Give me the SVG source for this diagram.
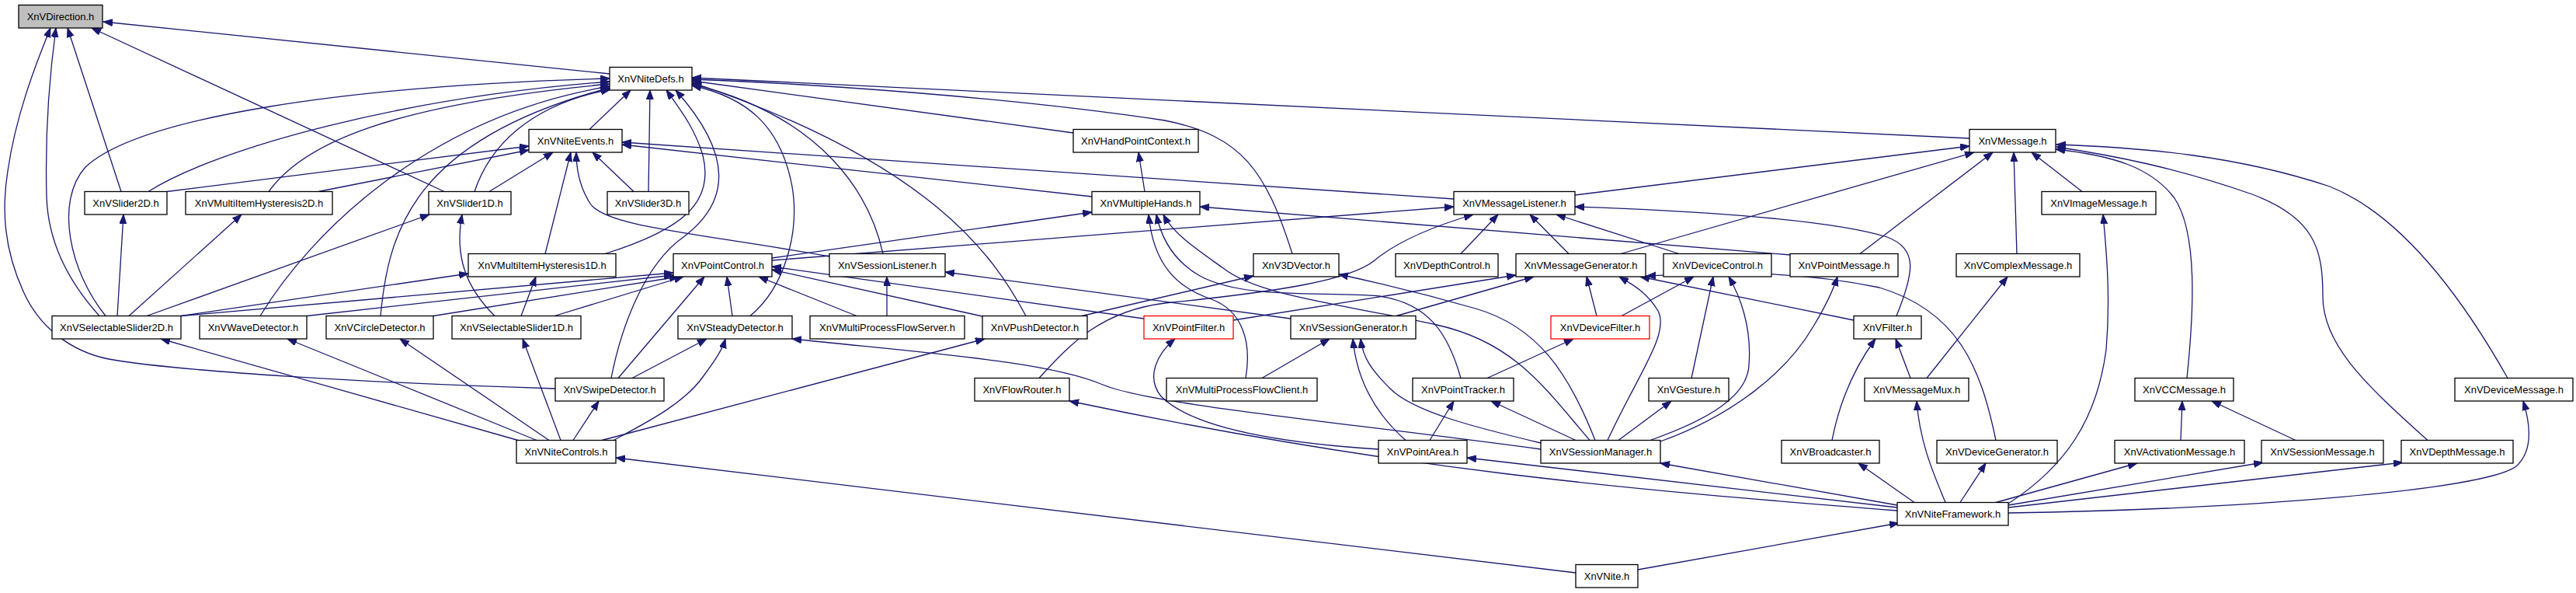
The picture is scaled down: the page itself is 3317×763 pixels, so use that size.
<svg xmlns="http://www.w3.org/2000/svg" width="3317" height="763" viewBox="0 0 3317 763">
<style>
.n rect{fill:#fff;stroke:#000;stroke-width:1.3}
.n text{font-family:"Liberation Sans",Arial,sans-serif;font-size:13px;text-anchor:middle;fill:#000}
.red rect{stroke:#ff0000}
.root rect{fill:#bfbfbf}
.e path{fill:none;stroke:#191970;stroke-width:1.3;marker-end:url(#ah)}
</style>
<defs>
<marker id="ah" markerUnits="userSpaceOnUse" markerWidth="13" markerHeight="10" refX="12" refY="4.5" orient="auto">
<path d="M0,0 L12,4.5 L0,9 z" fill="#191970" stroke="#191970" stroke-width="1"/>
</marker>
</defs>
<rect width="3317" height="763" fill="#fff"/>
<g id="edges" class="e">
<path d="M785,95 L133,28"/>
<path d="M572,246.5 L118,36"/>
<path d="M156,246.5 L87,36"/>
<path d="M128,406.5 C95,370 62,320 60,253 C58,180 62,110 72,36"/>
<path d="M715,500 C480,493 230,478 140,462 C90,452 50,420 30,375 C5,320 2,270 10,220 C20,150 45,85 65,36"/>
<path d="M759,166.5 L812,116"/>
<path d="M191,246.5 C280,190 520,125 785,105"/>
<path d="M346,246.5 C390,185 500,135 785,108"/>
<path d="M136,406.5 C90,350 70,260 110,215 C180,150 450,110 785,101"/>
<path d="M335,406.5 C400,300 550,150 785,111"/>
<path d="M490,406.5 C500,300 530,180 785,113"/>
<path d="M611,246.5 C630,190 680,135 786,115"/>
<path d="M630,246.5 L712,196"/>
<path d="M215,246.5 L681,188"/>
<path d="M410,246.5 L681,193"/>
<path d="M702,326.5 L735,196"/>
<path d="M1068,330 C900,300 780,292 760,262 C746,240 742,218 742,196"/>
<path d="M816,246.5 L763,196"/>
<path d="M835,246.5 L837,116"/>
<path d="M779,326.5 C880,295 920,260 905,200 C895,165 875,140 858,116"/>
<path d="M787,486.5 C800,420 830,340 880,305 C940,260 945,200 870,116"/>
<path d="M966,406.5 C1010,370 1030,300 1020,240 C1005,160 960,125 891,110"/>
<path d="M1137,326.5 C1120,250 1060,150 891,108"/>
<path d="M1321,406.5 C1280,330 1200,210 891,106"/>
<path d="M1382,171 L891,104"/>
<path d="M1664,326.5 C1630,220 1600,175 1500,155 C1300,125 1050,108 891,102"/>
<path d="M2536,178 L891,100"/>
<path d="M1406,253 L801,186"/>
<path d="M1872,256 L801,183"/>
<path d="M1474,246.5 L1466,196"/>
<path d="M994,332 L1406,273"/>
<path d="M994,335 L1872,266"/>
<path d="M2305,328 L1545,266"/>
<path d="M1604,486.5 C1612,440 1600,400 1560,385 C1515,370 1485,340 1479,276"/>
<path d="M1881,486.5 C1865,430 1840,390 1776,381 C1700,375 1600,385 1545,355 C1510,335 1495,305 1489,276"/>
<path d="M2047,566.5 C1990,500 1950,440 1850,418 C1720,390 1620,380 1575,345 C1540,320 1510,300 1498,276"/>
<path d="M2054,566.5 C2020,480 1980,420 1900,397 C1830,377 1780,365 1724,353"/>
<path d="M233,406.5 L867,351"/>
<path d="M395,406.5 L867,354"/>
<path d="M558,406.5 L874,356"/>
<path d="M714,406.5 L880,356"/>
<path d="M796,486.5 L907,356"/>
<path d="M943,406.5 L936,356"/>
<path d="M1103,406.5 L977,356"/>
<path d="M1265,407 L994,347"/>
<path d="M1473,410 L994,343"/>
<path d="M814,486.5 L910,436"/>
<path d="M790,566.5 C830,545 880,520 905,485 C922,462 930,450 934,436"/>
<path d="M667,566.5 L207,436"/>
<path d="M691,566.5 L370,436"/>
<path d="M707,566.5 L515,436"/>
<path d="M722,566.5 L673,436"/>
<path d="M738,566.5 L771,516"/>
<path d="M775,566.5 L1268,436"/>
<path d="M2029,737 L793,589"/>
<path d="M2109,733 L2445,673"/>
<path d="M2443,657 C2100,630 1800,605 1377,516"/>
<path d="M2443,653 L1889,589"/>
<path d="M2443,650 L2138,596"/>
<path d="M2465,646.5 L2393,596"/>
<path d="M2505,646.5 C2490,610 2472,570 2468,516"/>
<path d="M2524,646.5 L2557,596"/>
<path d="M2586,648 C2660,600 2700,540 2712,450 C2718,380 2712,320 2708,276"/>
<path d="M2570,646.5 L2752,596"/>
<path d="M2586,650 L2914,595"/>
<path d="M2586,653 L3094,595"/>
<path d="M2586,660 C2900,655 3200,630 3240,600 C3262,580 3258,545 3249,516"/>
<path d="M2359,566.5 C2370,510 2390,470 2415,436"/>
<path d="M2460,486.5 L2441,436"/>
<path d="M2481,486.5 L2585,356"/>
<path d="M2570,566.5 C2550,470 2520,400 2420,370 C2300,345 2200,352 2120,355"/>
<path d="M2387,412 L2112,356"/>
<path d="M2442,406.5 C2465,350 2470,320 2430,305 C2350,280 2150,270 2028,266"/>
<path d="M2070,566.5 C2110,480 2150,430 2135,400 C2120,375 2100,365 2085,356"/>
<path d="M2056,406.5 L2043,356"/>
<path d="M2088,406.5 L2181,356"/>
<path d="M2178,486.5 L2206,356"/>
<path d="M2125,566.5 C2200,540 2250,510 2252,470 C2256,420 2240,380 2226,356"/>
<path d="M2138,568 C2230,535 2300,480 2335,420 C2350,395 2360,375 2366,356"/>
<path d="M2084,566.5 L2152,516"/>
<path d="M2029,566.5 L1920,516"/>
<path d="M1984,570 C1900,550 1820,530 1790,500 C1765,475 1755,460 1752,436"/>
<path d="M1984,578 C1700,540 1480,520 1420,495 C1350,465 1200,455 1020,436"/>
<path d="M1662,410 L1217,350"/>
<path d="M1798,406.5 L1975,356"/>
<path d="M1588,412 L1952,354"/>
<path d="M1142,406.5 L1142,356"/>
<path d="M1393,406.5 L1614,355"/>
<path d="M1625,486.5 L1712,436"/>
<path d="M1915,486.5 L2026,436"/>
<path d="M1841,566.5 L1872,516"/>
<path d="M1810,566.5 C1780,540 1748,500 1742,436"/>
<path d="M1775,578 C1620,568 1530,545 1495,510 C1475,485 1490,455 1513,436"/>
<path d="M1338,486.5 C1380,440 1420,400 1500,390 C1650,375 1740,360 1770,335 C1800,310 1850,290 1897,276"/>
<path d="M1881,326.5 L1929,276"/>
<path d="M2020,326.5 L1970,276"/>
<path d="M2162,326.5 L2004,276"/>
<path d="M2028,251 L2536,188"/>
<path d="M2087,326.5 L2542,196"/>
<path d="M2395,326.5 L2566,196"/>
<path d="M2597,326.5 L2593,196"/>
<path d="M2681,246.5 L2616,196"/>
<path d="M2816,486.5 C2825,400 2830,300 2800,255 C2770,215 2720,200 2647,192"/>
<path d="M3126,566.5 C3040,490 2990,440 2991,380 C2991,320 2980,280 2900,250 C2800,215 2720,200 2648,189"/>
<path d="M3229,486.5 C3180,400 3100,280 3000,240 C2880,200 2760,190 2648,186"/>
<path d="M2808,566.5 L2810,516"/>
<path d="M2956,566.5 L2848,516"/>
<path d="M637,406.5 C600,370 585,330 595,276"/>
<path d="M671,406.5 L690,356"/>
<path d="M233,406.5 L603,352"/>
<path d="M151,406.5 L159,276"/>
<path d="M166,406.5 L311,276"/>
<path d="M189,406.5 L553,276"/>
</g>
<g id="n_Direction" class="n root"><rect x="24" y="6.5" width="108" height="29.5"/><text x="78" y="26">XnVDirection.h</text></g>
<g id="n_NiteDefs" class="n"><rect x="785" y="86.5" width="106" height="29.5"/><text x="838" y="106">XnVNiteDefs.h</text></g>
<g id="n_NiteEvents" class="n"><rect x="681" y="166.5" width="120" height="29.5"/><text x="741" y="186">XnVNiteEvents.h</text></g>
<g id="n_HandPointContext" class="n"><rect x="1382" y="166.5" width="161" height="29.5"/><text x="1462.5" y="186">XnVHandPointContext.h</text></g>
<g id="n_Message" class="n"><rect x="2536" y="166.5" width="111" height="29.5"/><text x="2591.5" y="186">XnVMessage.h</text></g>
<g id="n_Slider2D" class="n"><rect x="109" y="246.5" width="106" height="29.5"/><text x="162" y="266">XnVSlider2D.h</text></g>
<g id="n_MIH2D" class="n"><rect x="239" y="246.5" width="189" height="29.5"/><text x="333.5" y="266">XnVMultiItemHysteresis2D.h</text></g>
<g id="n_Slider1D" class="n"><rect x="552" y="246.5" width="106" height="29.5"/><text x="605" y="266">XnVSlider1D.h</text></g>
<g id="n_Slider3D" class="n"><rect x="782" y="246.5" width="105" height="29.5"/><text x="834.5" y="266">XnVSlider3D.h</text></g>
<g id="n_MultipleHands" class="n"><rect x="1406" y="246.5" width="139" height="29.5"/><text x="1475.5" y="266">XnVMultipleHands.h</text></g>
<g id="n_MessageListener" class="n"><rect x="1872" y="246.5" width="156" height="29.5"/><text x="1950" y="266">XnVMessageListener.h</text></g>
<g id="n_ImageMessage" class="n"><rect x="2629" y="246.5" width="147" height="29.5"/><text x="2702.5" y="266">XnVImageMessage.h</text></g>
<g id="n_MIH1D" class="n"><rect x="603" y="326.5" width="190" height="29.5"/><text x="698" y="346">XnVMultiItemHysteresis1D.h</text></g>
<g id="n_PointControl" class="n"><rect x="867" y="326.5" width="127" height="29.5"/><text x="930.5" y="346">XnVPointControl.h</text></g>
<g id="n_SessionListener" class="n"><rect x="1068" y="326.5" width="149" height="29.5"/><text x="1142.5" y="346">XnVSessionListener.h</text></g>
<g id="n_3DVector" class="n"><rect x="1614" y="326.5" width="110" height="29.5"/><text x="1669" y="346">XnV3DVector.h</text></g>
<g id="n_DepthControl" class="n"><rect x="1797" y="326.5" width="132" height="29.5"/><text x="1863" y="346">XnVDepthControl.h</text></g>
<g id="n_MessageGenerator" class="n"><rect x="1952" y="326.5" width="167" height="29.5"/><text x="2035.5" y="346">XnVMessageGenerator.h</text></g>
<g id="n_DeviceControl" class="n"><rect x="2142" y="326.5" width="139" height="29.5"/><text x="2211.5" y="346">XnVDeviceControl.h</text></g>
<g id="n_PointMessage" class="n"><rect x="2305" y="326.5" width="139" height="29.5"/><text x="2374.5" y="346">XnVPointMessage.h</text></g>
<g id="n_ComplexMessage" class="n"><rect x="2519" y="326.5" width="159" height="29.5"/><text x="2598.5" y="346">XnVComplexMessage.h</text></g>
<g id="n_SelectableSlider2D" class="n"><rect x="67" y="406.5" width="166" height="29.5"/><text x="150" y="426">XnVSelectableSlider2D.h</text></g>
<g id="n_WaveDetector" class="n"><rect x="257" y="406.5" width="138" height="29.5"/><text x="326" y="426">XnVWaveDetector.h</text></g>
<g id="n_CircleDetector" class="n"><rect x="420" y="406.5" width="138" height="29.5"/><text x="489" y="426">XnVCircleDetector.h</text></g>
<g id="n_SelectableSlider1D" class="n"><rect x="582" y="406.5" width="166" height="29.5"/><text x="665" y="426">XnVSelectableSlider1D.h</text></g>
<g id="n_SteadyDetector" class="n"><rect x="873" y="406.5" width="147" height="29.5"/><text x="946.5" y="426">XnVSteadyDetector.h</text></g>
<g id="n_MPFServer" class="n"><rect x="1043" y="406.5" width="199" height="29.5"/><text x="1142.5" y="426">XnVMultiProcessFlowServer.h</text></g>
<g id="n_PushDetector" class="n"><rect x="1265" y="406.5" width="135" height="29.5"/><text x="1332.5" y="426">XnVPushDetector.h</text></g>
<g id="n_PointFilter" class="n red"><rect x="1473" y="406.5" width="115" height="29.5"/><text x="1530.5" y="426">XnVPointFilter.h</text></g>
<g id="n_SessionGenerator" class="n"><rect x="1662" y="406.5" width="161" height="29.5"/><text x="1742.5" y="426">XnVSessionGenerator.h</text></g>
<g id="n_DeviceFilter" class="n red"><rect x="1997" y="406.5" width="127" height="29.5"/><text x="2060.5" y="426">XnVDeviceFilter.h</text></g>
<g id="n_Filter" class="n"><rect x="2387" y="406.5" width="87" height="29.5"/><text x="2430.5" y="426">XnVFilter.h</text></g>
<g id="n_SwipeDetector" class="n"><rect x="715" y="486.5" width="140" height="29.5"/><text x="785" y="506">XnVSwipeDetector.h</text></g>
<g id="n_FlowRouter" class="n"><rect x="1255" y="486.5" width="122" height="29.5"/><text x="1316" y="506">XnVFlowRouter.h</text></g>
<g id="n_MPFClient" class="n"><rect x="1502" y="486.5" width="194" height="29.5"/><text x="1599" y="506">XnVMultiProcessFlowClient.h</text></g>
<g id="n_PointTracker" class="n"><rect x="1819" y="486.5" width="130" height="29.5"/><text x="1884" y="506">XnVPointTracker.h</text></g>
<g id="n_Gesture" class="n"><rect x="2123" y="486.5" width="103" height="29.5"/><text x="2174.5" y="506">XnVGesture.h</text></g>
<g id="n_MessageMux" class="n"><rect x="2401" y="486.5" width="134" height="29.5"/><text x="2468" y="506">XnVMessageMux.h</text></g>
<g id="n_CCMessage" class="n"><rect x="2749" y="486.5" width="127" height="29.5"/><text x="2812.5" y="506">XnVCCMessage.h</text></g>
<g id="n_DeviceMessage" class="n"><rect x="3161" y="486.5" width="152" height="29.5"/><text x="3237" y="506">XnVDeviceMessage.h</text></g>
<g id="n_NiteControls" class="n"><rect x="665" y="566.5" width="128" height="29.5"/><text x="729" y="586">XnVNiteControls.h</text></g>
<g id="n_PointArea" class="n"><rect x="1775" y="566.5" width="114" height="29.5"/><text x="1832" y="586">XnVPointArea.h</text></g>
<g id="n_SessionManager" class="n"><rect x="1984" y="566.5" width="154" height="29.5"/><text x="2061" y="586">XnVSessionManager.h</text></g>
<g id="n_Broadcaster" class="n"><rect x="2294" y="566.5" width="126" height="29.5"/><text x="2357" y="586">XnVBroadcaster.h</text></g>
<g id="n_DeviceGenerator" class="n"><rect x="2494" y="566.5" width="155" height="29.5"/><text x="2571.5" y="586">XnVDeviceGenerator.h</text></g>
<g id="n_ActivationMessage" class="n"><rect x="2723" y="566.5" width="167" height="29.5"/><text x="2806.5" y="586">XnVActivationMessage.h</text></g>
<g id="n_SessionMessage" class="n"><rect x="2912" y="566.5" width="157" height="29.5"/><text x="2990.5" y="586">XnVSessionMessage.h</text></g>
<g id="n_DepthMessage" class="n"><rect x="3092" y="566.5" width="144" height="29.5"/><text x="3164" y="586">XnVDepthMessage.h</text></g>
<g id="n_NiteFramework" class="n"><rect x="2443" y="646.5" width="143" height="29.5"/><text x="2514.5" y="666">XnVNiteFramework.h</text></g>
<g id="n_Nite" class="n"><rect x="2029" y="726.5" width="80" height="29.5"/><text x="2069" y="746">XnVNite.h</text></g>
</svg>
